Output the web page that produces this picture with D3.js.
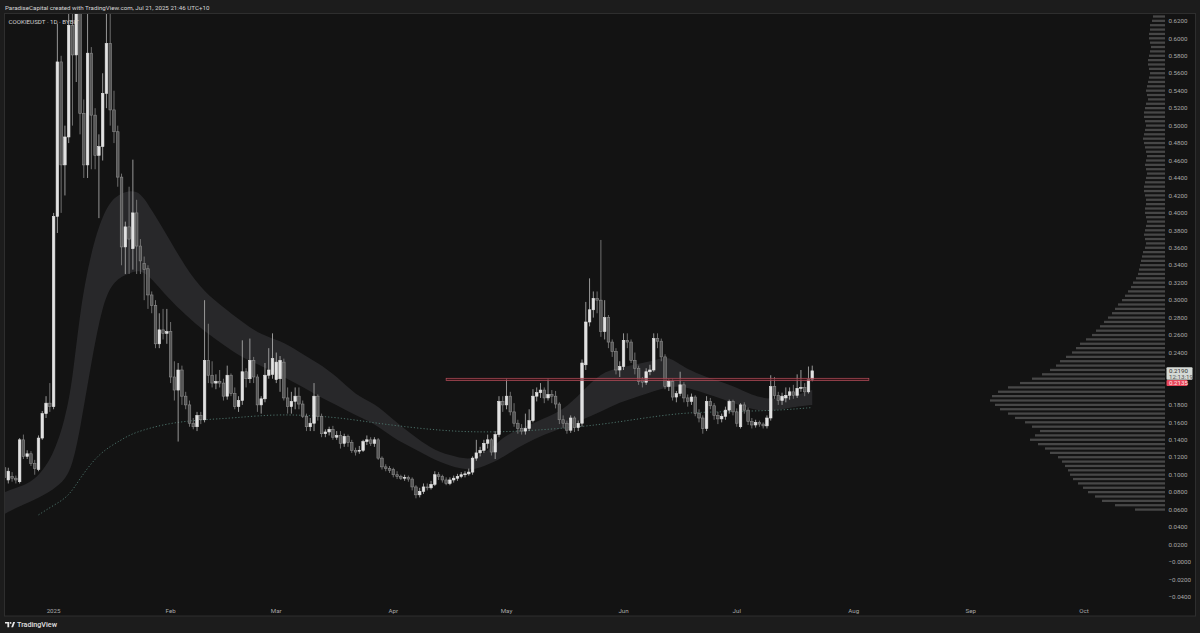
<!DOCTYPE html>
<html><head><meta charset="utf-8">
<script src="https://cdn.jsdelivr.net/npm/d3@7"></script>
<style>html,body{margin:0;padding:0;background:#1c1c1c;}svg{display:block;}</style>
</head><body><svg id="c" width="1200" height="633"></svg>
<script>
// ---------- DATA ----------
const firstCandle = "2024-12-19";
const opens = [
.108,.094,.098,.096,.092,.140,.121,.124,.113,.106,
.142,.170,.182,.178,.396,.573,.455,.487,.615,.581,
.629,.514,.455,.583,.512,.466,.476,.537,.594,.518,
.493,.441,.361,.384,.359,.400,.362,.342,.336,.306,
.294,.250,.266,.262,.264,.212,.197,.220,.190,.180,
.159,.155,.168,.163,.231,.214,.205,.207,.205,.190,
.214,.193,.178,.185,.218,.210,.231,.212,.180,.187,
.214,.215,.209,.210,.229,.188,.178,.184,.190,.181,
.167,.155,.159,.190,.167,.147,.149,.152,.143,.145,
.136,.144,.137,.128,.127,.128,.138,.140,.136,.140,
.119,.109,.107,.106,.100,.098,.096,.097,.095,.086,
.077,.081,.086,.085,.089,.100,.098,.094,.090,.094,
.096,.098,.100,.101,.103,.119,.125,.128,.136,.140,
.126,.146,.184,.180,.190,.172,.159,.153,.150,.153,
.162,.190,.194,.197,.188,.192,.190,.181,.163,.159,
.151,.165,.154,.159,.226,.275,.289,.302,.300,.264,
.280,.252,.241,.220,.224,.254,.252,.231,.222,.209,
.206,.218,.220,.256,.253,.235,.201,.207,.189,.193,
.203,.188,.184,.189,.170,.165,.153,.184,.179,.168,
.164,.167,.174,.184,.172,.155,.180,.174,.161,.157,
.160,.158,.156,.165,.201,.191,.185,.188,.191,.195,
.191,.199,.200,.195,.209];
const highs = [
.119,.108,.103,.099,.142,.146,.128,.127,.117,.145,
.173,.190,.205,.400,.617,.580,.500,.640,.660,.660,
.660,.530,.660,.590,.520,.490,.560,.660,.660,.540,
.500,.445,.390,.430,.461,.415,.370,.350,.340,.310,
.300,.285,.290,.290,.275,.230,.228,.225,.195,.185,
.165,.172,.172,.300,.273,.230,.215,.220,.210,.225,
.216,.200,.190,.254,.222,.256,.235,.215,.190,.228,
.245,.262,.240,.236,.233,.200,.195,.200,.200,.185,
.170,.165,.205,.192,.170,.152,.155,.156,.150,.150,
.147,.146,.140,.131,.133,.140,.145,.143,.143,.142,
.121,.112,.110,.108,.104,.100,.100,.099,.097,.088,
.085,.090,.090,.093,.104,.103,.100,.097,.097,.099,
.101,.103,.104,.107,.121,.140,.132,.140,.146,.142,
.150,.190,.190,.210,.195,.182,.163,.158,.170,.175,
.198,.200,.205,.200,.210,.197,.196,.183,.168,.162,
.168,.167,.162,.232,.298,.325,.310,.310,.369,.300,
.283,.255,.245,.230,.262,.262,.255,.240,.225,.212,
.222,.226,.262,.262,.256,.238,.210,.210,.196,.218,
.206,.192,.193,.191,.175,.168,.190,.188,.182,.172,
.170,.178,.186,.186,.176,.182,.183,.177,.165,.163,
.162,.160,.168,.214,.212,.195,.194,.200,.200,.203,
.215,.220,.205,.224,.225];
const lows = [
.087,.090,.092,.090,.090,.118,.118,.110,.100,.104,
.140,.165,.172,.175,.377,.400,.420,.480,.500,.550,
.490,.440,.440,.450,.450,.394,.460,.520,.500,.480,
.430,.340,.330,.330,.335,.330,.330,.300,.290,.285,
.245,.245,.255,.250,.205,.185,.138,.180,.175,.155,
.152,.150,.158,.160,.205,.200,.198,.200,.185,.186,
.190,.175,.172,.180,.200,.205,.205,.172,.170,.183,
.210,.210,.205,.195,.185,.170,.170,.175,.175,.165,
.150,.150,.150,.162,.143,.143,.145,.140,.140,.130,
.132,.132,.125,.122,.124,.126,.134,.133,.132,.117,
.106,.104,.102,.097,.095,.094,.093,.092,.082,.073,
.074,.078,.082,.083,.087,.094,.091,.088,.088,.091,
.093,.096,.097,.099,.100,.116,.121,.125,.130,.122,
.118,.143,.172,.175,.168,.155,.147,.146,.146,.150,
.160,.184,.188,.182,.185,.182,.176,.158,.153,.147,
.148,.149,.150,.155,.220,.270,.280,.285,.258,.255,
.245,.235,.215,.212,.220,.245,.228,.215,.203,.200,
.203,.214,.218,.245,.230,.198,.196,.185,.183,.190,
.183,.178,.180,.167,.160,.147,.150,.175,.163,.158,
.160,.163,.170,.168,.155,.153,.170,.157,.153,.154,
.155,.153,.153,.162,.187,.180,.180,.183,.186,.187,
.188,.195,.190,.193,.207];
const closes = [
.097,.104,.096,.094,.140,.121,.124,.113,.107,.142,
.170,.182,.178,.396,.573,.455,.487,.615,.581,.629,
.514,.455,.583,.512,.466,.476,.537,.594,.518,.493,
.441,.361,.384,.370,.400,.362,.345,.335,.306,.294,
.250,.266,.262,.264,.212,.197,.220,.190,.180,.159,
.155,.168,.163,.231,.214,.205,.207,.205,.190,.214,
.193,.178,.185,.218,.210,.231,.212,.180,.187,.214,
.220,.233,.229,.231,.188,.178,.184,.190,.181,.167,
.155,.159,.190,.167,.147,.149,.152,.143,.145,.136,
.144,.137,.128,.126,.128,.138,.140,.136,.140,.119,
.109,.107,.105,.100,.098,.096,.097,.095,.086,.077,
.081,.086,.085,.089,.100,.098,.094,.090,.094,.096,
.098,.100,.101,.103,.119,.125,.128,.136,.140,.126,
.146,.184,.180,.190,.172,.159,.153,.150,.153,.162,
.190,.194,.197,.188,.192,.190,.181,.163,.159,.151,
.165,.154,.159,.228,.275,.289,.302,.300,.264,.280,
.252,.241,.220,.224,.254,.252,.231,.222,.207,.206,
.218,.220,.256,.253,.235,.201,.207,.189,.193,.203,
.188,.184,.189,.170,.165,.153,.184,.179,.168,.164,
.167,.174,.184,.172,.159,.180,.174,.161,.157,.160,
.158,.156,.165,.201,.191,.185,.190,.191,.195,.191,
.199,.200,.195,.209,.219];

// EMA cloud (days offset from 2025-01-01)
const bandDays  = [-13,-10,-5,0,3,5,7,10,13,16,20,23,26,30,35,40,45,50,55,60,65,70,75,80,85,90,95,100,105,110,113,117,120,125,130,135,140,145,150,155,160,163,167,170,175,180,185,190,195,201];
const bandUpper = [.080,.085,.092,.122,.163,.207,.289,.357,.398,.419,.426,.424,.403,.375,.337,.309,.292,.275,.260,.254,.241,.228,.213,.191,.182,.163,.146,.130,.122,.117,.122,.134,.146,.155,.165,.174,.195,.217,.223,.227,.232,.236,.223,.217,.209,.202,.191,.186,.189,.197];
const bandLower = [.055,.062,.071,.083,.094,.111,.151,.229,.297,.323,.331,.335,.325,.304,.283,.264,.249,.234,.225,.214,.203,.190,.180,.168,.159,.142,.131,.119,.110,.105,.108,.115,.123,.136,.146,.154,.163,.172,.183,.190,.197,.201,.201,.197,.190,.182,.175,.172,.177,.180];

// dotted moving average
const maDays = [-4,0,4,7,12,18,21,30,39,48,60,75,84,93,102,110,119,128,140,149,158,167,176,185,193,201];
const maVals = [.054,.065,.075,.096,.125,.140,.148,.159,.163,.165,.170,.166,.160,.155,.151,.149,.149,.151,.155,.160,.166,.171,.172,.173,.174,.177];

// volume profile, bins of 0.005 starting at 0.060
const profileStart = 0.060, profileStep = 0.005;
const profileVolumes = [
30,50,63,70,77,82,87,92,95,97,
100,103,107,115,120,127,135,130,125,133,
140,150,157,165,170,175,173,167,157,145,
133,123,115,109,105,99,93,89,85,79,
73,69,65,61,57,53,50,47,43,40,
37,34,32,29,27,26,25,24,23,22,
20,19,20,21,20,19,18,19,20,20,
19,19,20,21,21,20,19,18,19,20,
19,18,19,20,21,22,21,20,19,20,
21,21,20,19,17,18,19,18,17,16,
15,16,17,17,16,15,14,15,16,16,
15,15,13,12];

// resistance zone
const zoneStart = "2025-04-15", zoneEnd = "2025-08-05";
const zoneTop = 0.2105, zoneBottom = 0.2078;

const monthTicks  = ["2025-01-01","2025-02-01","2025-03-01","2025-04-01","2025-05-01","2025-06-01","2025-07-01","2025-08-01","2025-09-01","2025-10-01"];
const monthLabels = ["2025","Feb","Mar","Apr","May","Jun","Jul","Aug","Sep","Oct"];
const priceTicks = [0.62,0.60,0.58,0.56,0.54,0.52,0.50,0.48,0.46,0.44,0.42,0.40,0.38,0.36,0.34,0.32,0.30,0.28,0.26,0.24,0.22,0.20,0.18,0.16,0.14,0.12,0.10,0.08,0.06,0.04,0.02,0,-0.02,-0.04];
const lastPrice = 0.2190, countdown = "12:13:19", openLabel = 0.2135;
const headerText = "ParadiseCapital created with TradingView.com, Jul 21, 2025 21:46 UTC+10";
const titleText = "COOKIEUSDT · 1D · BYBIT";

// ---------- DRAW ----------
const svg = d3.select("#c");
const FONT = "Roboto, 'Liberation Sans', sans-serif";
const pane = {x0:4.5, y0:13.5, x1:1195.5, y1:616};
const plotRight = 1165;

const parse = d3.utcParse("%Y-%m-%d");
const jan1 = parse("2025-01-01");
const x = d3.scaleUtc().domain([jan1, parse("2025-10-01")]).range([53.6, 1084]);
const y = d3.scaleLinear().domain([0, 0.62]).range([562, 20.9]);
const dayW = x(d3.utcDay.offset(jan1,1)) - x(jan1);
const dayAt = off => d3.utcDay.offset(jan1, off);

svg.append("rect").attr("width",1200).attr("height",633).attr("fill","#1c1c1c");
svg.append("rect").attr("x",pane.x0).attr("y",pane.y0).attr("width",pane.x1-pane.x0).attr("height",pane.y1-pane.y0)
  .attr("fill","#131313").attr("stroke","#2e2e2e").attr("stroke-width",1);

svg.append("defs").append("clipPath").attr("id","clip").append("rect")
  .attr("x",pane.x0+0.5).attr("y",pane.y0+0.5).attr("width",plotRight-pane.x0).attr("height",603-pane.y0);

const g = svg.append("g").attr("clip-path","url(#clip)");

// volume profile
const vx = d3.scaleLinear().domain([0,175]).range([0,175]);
g.append("g").selectAll("rect").data(profileVolumes).join("rect")
  .attr("x", v => plotRight - vx(v))
  .attr("width", v => vx(v))
  .attr("y", (v,i) => y(profileStart + i*profileStep + profileStep/2) + 1)
  .attr("height", (v,i) => Math.max(0.8, y(profileStart + i*profileStep - profileStep/2) - y(profileStart + i*profileStep + profileStep/2) - 2.1))
  .attr("fill","#474747");

// band
const bandData = bandDays.map((d,i)=>({t:dayAt(d), u:bandUpper[i], l:bandLower[i]}));
g.append("path").datum(bandData)
  .attr("d", d3.area().x(d=>x(d.t)).y0(d=>y(d.l)).y1(d=>y(d.u)).curve(d3.curveBasis))
  .attr("fill","#28282a");

// dotted MA
const maData = maDays.map((d,i)=>({t:dayAt(d), v:maVals[i]}));
g.append("path").datum(maData)
  .attr("d", d3.line().x(d=>x(d.t)).y(d=>y(d.v)).curve(d3.curveBasis))
  .attr("fill","none").attr("stroke","#4b7068").attr("stroke-width",1).attr("stroke-dasharray","1.2,2");

// candles
const start = parse(firstCandle);
const candles = closes.map((c,i)=>({t:d3.utcDay.offset(start,i), o:opens[i], h:highs[i], l:lows[i], c}));
const bw = dayW*0.68;
const cg = g.append("g");
cg.selectAll("line").data(candles).join("line")
  .attr("x1", d=>x(d.t)).attr("x2", d=>x(d.t))
  .attr("y1", d=>y(d.h)).attr("y2", d=>y(d.l))
  .attr("stroke", d=> d.c>=d.o ? "#b8b8b8" : "#858585").attr("stroke-width",0.8);
cg.selectAll("rect").data(candles).join("rect")
  .attr("x", d=>x(d.t)-bw/2).attr("width", bw)
  .attr("y", d=>y(Math.max(d.o,d.c)))
  .attr("height", d=>Math.max(0.8, Math.abs(y(d.o)-y(d.c))))
  .attr("fill", d=> d.c>=d.o ? "#e2e2e2" : "#555555")
  .attr("stroke", d=> d.c>=d.o ? "#e2e2e2" : "#8c8c8c").attr("stroke-width",0.6);

// resistance zone
g.append("rect")
  .attr("x", x(parse(zoneStart))).attr("width", x(parse(zoneEnd)) - x(parse(zoneStart)))
  .attr("y", y(zoneTop)).attr("height", y(zoneBottom)-y(zoneTop))
  .attr("fill","rgba(80,20,28,0.6)").attr("stroke","#b8505d").attr("stroke-width",0.7);

// price axis labels
const hidden = new Set([0.22, 0.20]);
const fmt = v => (v<=0 ? "\u2212" : "") + Math.abs(v).toFixed(4);
svg.append("g").selectAll("text").data(priceTicks.filter(v=>!hidden.has(v))).join("text")
  .attr("x", 1168.5).attr("y", v=>y(v)+2.2)
  .attr("font-family",FONT).attr("font-size",6.2).attr("fill","#a8a8a8").text(fmt);

// last price labels
svg.append("rect").attr("x",1166.5).attr("y",y(lastPrice)-3.5).attr("width",26).attr("height",12.5).attr("rx",1).attr("fill","#d6dad6");
svg.append("text").attr("x",1169).attr("y",y(lastPrice)+2).attr("font-family",FONT).attr("font-size",6.2).attr("fill","#333").text(lastPrice.toFixed(4));
svg.append("text").attr("x",1169).attr("y",y(lastPrice)+7.8).attr("font-family",FONT).attr("font-size",6.2).attr("fill","#555").text(countdown);
svg.append("rect").attr("x",1166.5).attr("y",y(lastPrice)+9.2).attr("width",21).attr("height",6).attr("rx",1).attr("fill","#e8475a");
svg.append("text").attr("x",1169).attr("y",y(lastPrice)+14.3).attr("font-family",FONT).attr("font-size",6.2).attr("fill","#ffe3e6").text(openLabel.toFixed(4));

// time axis
svg.append("g").selectAll("text").data(monthTicks).join("text")
  .attr("x", d=>x(parse(d))).attr("y", 612.5).attr("text-anchor","middle")
  .attr("font-family",FONT).attr("font-size",6.2).attr("fill","#a8a8a8")
  .text((d,i)=>monthLabels[i]);

// header / title / footer
svg.append("text").attr("x",5).attr("y",9.5).attr("font-family",FONT).attr("font-size",6.2).attr("fill","#d6d6d6").text(headerText);
svg.append("text").attr("x",8.5).attr("y",24).attr("font-family",FONT).attr("font-size",6.2).attr("fill","#d1d1d1").text(titleText);
const logo = svg.append("g").attr("transform","translate(5,622)");
logo.append("path").attr("d","M0,0H4.2V5.2H2.4V1.6H0Z").attr("fill","#e8e8e8");
logo.append("circle").attr("cx",5.6).attr("cy",0.9).attr("r",0.9).attr("fill","#e8e8e8");
logo.append("path").attr("d","M6.2,5.2L8.2,0H10.1L8.1,5.2Z").attr("fill","#e8e8e8");
svg.append("text").attr("x",17).attr("y",627.3).attr("font-family",FONT).attr("font-size",7.2).attr("font-weight",500).attr("fill","#e0e0e0").text("TradingView");
</script></body></html>
